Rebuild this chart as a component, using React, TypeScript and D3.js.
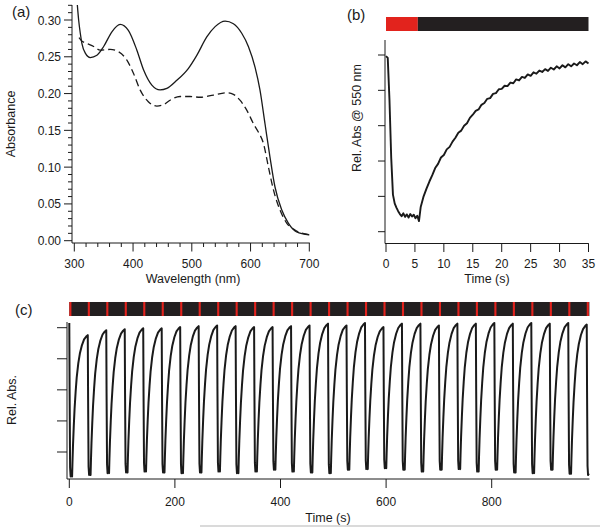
import React from 'react';
import * as d3 from 'd3';

const W = 600;
const H = 527;
const FONT = "'Liberation Sans', Arial, Helvetica, sans-serif";
const RED = '#e2231d';
const DARK = '#231f20';
const INK = '#1a1a1a';

// ---------- Panel (a): absorbance spectra ----------
const wavelengthSolid = [305, 307.4, 310.2, 313, 318.7, 327.2, 338.5, 350, 364, 378, 392, 406.5, 418, 432, 446, 457.5, 474.5, 494, 508.5, 525.5, 539.7, 556.7, 570.8, 585, 596.3, 607.6, 616, 624.6, 633, 641.6, 653, 664.3, 678.5, 700];
const absorbanceSolid = [0.322, 0.3, 0.282, 0.268, 0.255, 0.249, 0.252, 0.264, 0.284, 0.294, 0.286, 0.259, 0.232, 0.2115, 0.205, 0.207, 0.218, 0.234, 0.252, 0.277, 0.291, 0.2985, 0.295, 0.282, 0.264, 0.236, 0.205, 0.159, 0.114, 0.073, 0.042, 0.024, 0.012, 0.008];
const wavelengthDashed = [308, 312, 318.7, 333, 344, 361, 375, 389.5, 401, 412, 426, 440.5, 452, 463, 480, 497, 514, 537, 559.5, 570.8, 582, 593.5, 605, 613, 622, 630.5, 639, 650, 661.5, 675.6, 700];
const absorbanceDashed = [0.276, 0.272, 0.269, 0.264, 0.259, 0.26, 0.257, 0.2455, 0.227, 0.205, 0.189, 0.183, 0.185, 0.191, 0.196, 0.196, 0.195, 0.198, 0.201, 0.199, 0.191, 0.1775, 0.159, 0.148, 0.132, 0.1, 0.069, 0.042, 0.024, 0.0145, 0.008];
const aYTicks = [0, 0.05, 0.1, 0.15, 0.2, 0.25, 0.3];
const aYMinor = [0.01, 0.02, 0.03, 0.04, 0.06, 0.07, 0.08, 0.09, 0.11, 0.12, 0.13, 0.14, 0.16, 0.17, 0.18, 0.19, 0.21, 0.22, 0.23, 0.24, 0.26, 0.27, 0.28, 0.29, 0.31, 0.32];
const aXTicks = [300, 400, 500, 600, 700];
const aXMinor = [320, 340, 360, 380, 420, 440, 460, 480, 520, 540, 560, 580, 620, 640, 660, 680];

// ---------- Panel (b): single switching trace ----------
const bTime = [0, 0.3, 0.6, 0.9, 1.2, 1.5, 1.8, 2.1, 2.4, 2.7, 3.0, 3.3, 3.6, 3.9, 4.2, 4.5, 4.8, 5.1, 5.4, 5.7, 6.0, 6.5, 7.0, 7.5, 8.0, 8.5, 9.0, 9.5, 10.0, 10.5, 11.0, 11.5, 12.0, 12.5, 13.0, 13.5, 14.0, 14.5, 15.0, 15.5, 16.0, 16.5, 17.0, 17.5, 18.0, 18.5, 19.0, 19.5, 20.0, 20.5, 21.0, 21.5, 22.0, 22.5, 23.0, 23.5, 24.0, 24.5, 25.0, 25.5, 26.0, 26.5, 27.0, 27.5, 28.0, 28.5, 29.0, 29.5, 30.0, 30.5, 31.0, 31.5, 32.0, 32.5, 33.0, 33.5, 34.0, 34.5, 35.0];
const bRelAbs = [4.97, 4.92, 3.73, 2.1, 1.05, 0.8, 0.68, 0.58, 0.5, 0.44, 0.52, 0.42, 0.49, 0.4, 0.5, 0.43, 0.48, 0.38, 0.45, 0.3, 0.7, 1.0, 1.22, 1.42, 1.6, 1.8, 1.92, 2.1, 2.17, 2.33, 2.4, 2.55, 2.66, 2.8, 2.86, 3.0, 3.07, 3.22, 3.31, 3.42, 3.46, 3.59, 3.64, 3.76, 3.78, 3.9, 3.92, 4.03, 4.04, 4.13, 4.12, 4.22, 4.2, 4.31, 4.28, 4.38, 4.35, 4.45, 4.41, 4.51, 4.47, 4.56, 4.52, 4.6, 4.55, 4.64, 4.59, 4.68, 4.62, 4.71, 4.65, 4.74, 4.68, 4.76, 4.71, 4.8, 4.74, 4.82, 4.76];
const bXTicks = [0, 5, 10, 15, 20, 25, 30, 35];
const bYTicks = [0, 1, 2, 3, 4, 5];
const bBarStart = [0, 5.5];
const bBarEnd = [5.5, 35];
const bBarLight = [true, false];

// ---------- Panel (c): repeated cycles ----------
const cOnsets = [0, 35, 70, 105, 140, 175, 210, 245, 280, 315, 350, 385, 420, 455, 490, 525, 560, 595, 630, 665, 700, 735, 770, 805, 840, 875, 910, 945, 980];
const cPeaks = [4.15, 3.76, 3.92, 3.95, 3.98, 3.98, 4.02, 4.05, 4.07, 4.05, 4.02, 4.02, 4.05, 4.07, 4.13, 4.07, 4.15, 4.02, 4.13, 4.13, 4.07, 4.13, 4.13, 4.15, 4.13, 4.15, 4.13, 4.15, 4.1];
const cTroughs = [-0.79, -0.74, -0.68, -0.66, -0.63, -0.66, -0.68, -0.66, -0.63, -0.68, -0.63, -0.57, -0.63, -0.66, -0.68, -0.57, -0.55, -0.52, -0.57, -0.63, -0.57, -0.55, -0.63, -0.57, -0.66, -0.68, -0.57, -0.7, -0.74];
const cShapeT = [0, 0.6, 1.5, 2.5, 4, 5.3, 6, 7, 8.5, 10, 12, 14, 17, 20, 24, 28, 32, 35];
const cShapeF = [1, 0.55, 0.06, 0, 0.01, 0, 0.1, 0.22, 0.36, 0.48, 0.6, 0.7, 0.8, 0.87, 0.93, 0.97, 0.99, 1];
const cEndTime = 985;
const cLightDuration = 4;
const cXTicks = [0, 200, 400, 600, 800];
const cYTicks = [0, 1, 2, 3, 4];

export default function App() {
  // scales
  const ax = d3.scaleLinear().domain([300, 700]).range([74.3, 309.3]);
  const ay = d3.scaleLinear().domain([0, 0.32]).range([240.7, 5.3]);
  const bx = d3.scaleLinear().domain([0, 35]).range([386, 588.5]);
  const by = d3.scaleLinear().domain([0, 5]).range([231.7, 55]);
  const cx = d3.scaleLinear().domain([0, 800]).range([69.3, 491.7]);
  const cy = d3.scaleLinear().domain([0, 4]).range([452, 327.7]);

  const aLine = d3.line<[number, number]>().x(d => ax(d[0])).y(d => ay(d[1])).curve(d3.curveMonotoneX);
  const solidPts = wavelengthSolid.map((w, i) => [w, absorbanceSolid[i]] as [number, number]);
  const dashedPts = wavelengthDashed.map((w, i) => [w, absorbanceDashed[i]] as [number, number]);

  const bLine = d3.line<[number, number]>().x(d => bx(d[0])).y(d => by(d[1]));
  const bPts = bTime.map((t, i) => [t, bRelAbs[i]] as [number, number]);

  const cPts: [number, number][] = [];
  cOnsets.forEach((t0, k) => {
    const trough = cTroughs[k];
    const peakStart = cPeaks[k];
    const peakEnd = k + 1 < cPeaks.length ? cPeaks[k + 1] : cPeaks[k];
    cShapeT.forEach((tau, j) => {
      const t = t0 + tau;
      if (t > cEndTime) return;
      const top = tau <= 2.5 ? peakStart : peakEnd;
      cPts.push([t, trough + cShapeF[j] * (top - trough)]);
    });
  });
  const cLine = d3.line<[number, number]>().x(d => cx(d[0])).y(d => cy(d[1]));

  const txt = { fontFamily: FONT, fill: INK } as React.CSSProperties;

  return (
    <svg width={W} height={H} style={{ position: 'absolute', left: 0, top: 0, background: '#fff' }}>
      <rect x={0} y={0} width={W} height={H} fill="#fff" />
      <defs>
        <clipPath id="clipA"><rect x={72} y={5} width={240} height={238} /></clipPath>
      </defs>

      {/* ---------- Panel (a) ---------- */}
      <text x={12} y={17} fontSize={15} style={txt}>(a)</text>
      <line x1={72} x2={72} y1={5} y2={243} stroke={INK} strokeWidth={1} />
      <line x1={72} x2={309.8} y1={243} y2={243} stroke={INK} strokeWidth={1} />
      {aYTicks.map(v => (
        <g key={'ay' + v}>
          <line x1={64} x2={72} y1={ay(v)} y2={ay(v)} stroke={INK} />
          <text x={61} y={ay(v) + 4.5} fontSize={12} textAnchor="end" style={txt}>{v.toFixed(2)}</text>
        </g>
      ))}
      {aYMinor.map(v => (
        <line key={'aym' + v} x1={68} x2={72} y1={ay(v)} y2={ay(v)} stroke={INK} />
      ))}
      {aXTicks.map(v => (
        <g key={'ax' + v}>
          <line x1={ax(v)} x2={ax(v)} y1={243} y2={251.5} stroke={INK} />
          <text x={ax(v)} y={267.5} fontSize={12} textAnchor="middle" style={txt}>{v}</text>
        </g>
      ))}
      {aXMinor.map(v => (
        <line key={'axm' + v} x1={ax(v)} x2={ax(v)} y1={243} y2={247} stroke={INK} />
      ))}
      <text x={193} y={283} fontSize={12.5} textAnchor="middle" style={txt}>Wavelength (nm)</text>
      <text transform="translate(14.5,124) rotate(-90)" fontSize={12.5} textAnchor="middle" style={txt}>Absorbance</text>
      <g clipPath="url(#clipA)">
        <path d={aLine(solidPts) || ''} fill="none" stroke={INK} strokeWidth={1.3} />
        <path d={aLine(dashedPts) || ''} fill="none" stroke={INK} strokeWidth={1.3} strokeDasharray="7,4" />
      </g>

      {/* ---------- Panel (b) ---------- */}
      <text x={347} y={20} fontSize={15} style={txt}>(b)</text>
      {bBarStart.map((s, i) => (
        <rect key={'bb' + i} x={bx(s)} y={17} width={bx(bBarEnd[i]) - bx(s)} height={14} fill={bBarLight[i] ? RED : DARK} />
      ))}
      <line x1={385} x2={385} y1={40} y2={243.5} stroke={INK} />
      <line x1={385} x2={588.8} y1={243.5} y2={243.5} stroke={INK} />
      {bYTicks.map(v => (
        <line key={'by' + v} x1={378} x2={385} y1={by(v)} y2={by(v)} stroke={INK} />
      ))}
      {bXTicks.map(v => (
        <g key={'bx' + v}>
          <line x1={bx(v)} x2={bx(v)} y1={243.5} y2={252} stroke={INK} />
          <text x={bx(v)} y={268} fontSize={12} textAnchor="middle" style={txt}>{v}</text>
        </g>
      ))}
      <text x={487} y={283} fontSize={12.5} textAnchor="middle" style={txt}>Time (s)</text>
      <text transform="translate(361,118) rotate(-90)" fontSize={12.5} textAnchor="middle" style={txt}>Rel. Abs @ 550 nm</text>
      <path d={bLine(bPts) || ''} fill="none" stroke={INK} strokeWidth={1.9} strokeLinejoin="round" />

      {/* ---------- Panel (c) ---------- */}
      <text x={15} y={315} fontSize={15} style={txt}>(c)</text>
      <rect x={cx(0)} y={302} width={cx(cEndTime) - cx(0)} height={14} fill={DARK} />
      {cOnsets.map(t0 => (
        <rect key={'cr' + t0} x={cx(t0)} y={302} width={Math.max(0, Math.min(cx(t0 + cLightDuration), cx(cEndTime)) - cx(t0))} height={14} fill={RED} />
      ))}
      <line x1={67} x2={67} y1={322} y2={479} stroke={INK} />
      <line x1={67} x2={589.5} y1={479} y2={479} stroke={INK} />
      {cYTicks.map(v => (
        <line key={'cy' + v} x1={57} x2={67} y1={cy(v)} y2={cy(v)} stroke={INK} />
      ))}
      {cXTicks.map(v => (
        <g key={'cx' + v}>
          <line x1={cx(v)} x2={cx(v)} y1={479} y2={488} stroke={INK} />
          <text x={cx(v)} y={506} fontSize={12} textAnchor="middle" style={txt}>{v}</text>
        </g>
      ))}
      <text x={328} y={522} fontSize={12.5} textAnchor="middle" style={txt}>Time (s)</text>
      <text transform="translate(16,400) rotate(-90)" fontSize={12.5} textAnchor="middle" style={txt}>Rel. Abs.</text>
      <path d={cLine(cPts) || ''} fill="none" stroke={INK} strokeWidth={2} strokeLinejoin="round" />

      <line x1={200} x2={600} y1={526} y2={526} stroke="#b5b5b5" strokeWidth={1} />
    </svg>
  );
}
